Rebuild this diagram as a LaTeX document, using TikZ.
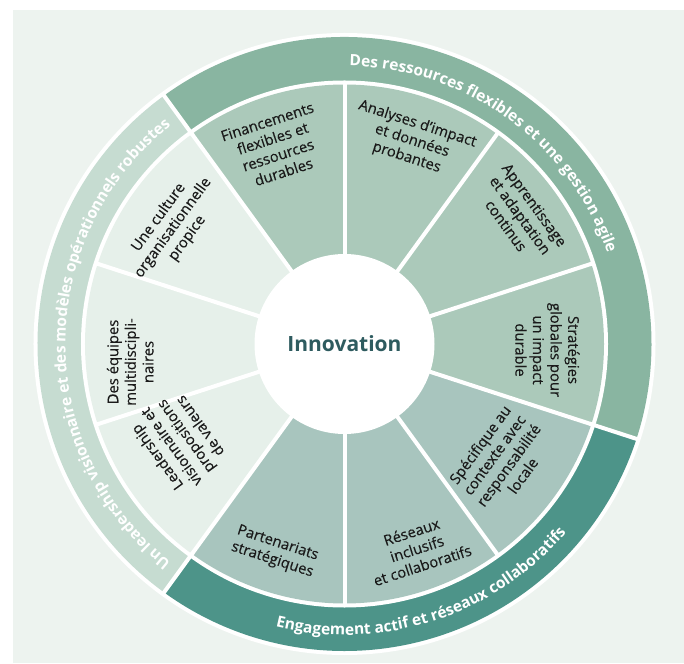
\documentclass[tikz,border=0pt]{standalone}
\usepackage{fontspec}
\setmainfont{Open Sans}
\newfontfamily\lblfamily{Open Sans}[FakeBold=0.35]
\usetikzlibrary{decorations.text}
\definecolor{bg}{HTML}{EDF3EF}
\definecolor{ringA}{HTML}{89B5A1}
\definecolor{ringB}{HTML}{4D9489}
\definecolor{ringC}{HTML}{C6DCD1}
\definecolor{wA}{HTML}{ABC9BA}
\definecolor{wB}{HTML}{A8C5BE}
\definecolor{wC}{HTML}{E6F0EA}
\definecolor{txt}{HTML}{1A1A1A}
\definecolor{inno}{HTML}{2E5B5F}
\newcommand\ringfont{\color{white}\bfseries\fontsize{15.5}{17}\selectfont}
\tikzset{
  lbl/.style={align=center, font=\lblfamily\fontsize{14.8}{17.6}\selectfont, text=txt, inner sep=0pt},
  sep/.style={white, line width=4pt},
  ringtext/.style={decorate, decoration={text along path, text align=center, text={|\ringfont|#1}}}
}
\begin{document}
\begin{tikzpicture}[x=1pt,y=1pt]
\useasboundingbox (-344.5,-319) rectangle (339.5,344);
\fill[bg] (-331.5,-319) rectangle (339.5,334);
\fill[white] (0,0) circle[radius=311pt];
% outer ring
\fill[ringA] (0,0) -- (126:307pt) arc[start angle=126,end angle=-18,radius=307pt] -- cycle;
\fill[ringB] (0,0) -- (-18:307pt) arc[start angle=-18,end angle=-126,radius=307pt] -- cycle;
\fill[ringC] (0,0) -- (234:307pt) arc[start angle=234,end angle=126,radius=307pt] -- cycle;
\fill[white] (0,0) circle[radius=263.5pt];
% wedges
\foreach \s/\c in {90/wA,54/wA,18/wA,-18/wA,-54/wB,-90/wB,-126/wB,-162/wC,162/wC,126/wC}
  \fill[\c] (0,0) -- (\s:259.5pt) arc[start angle=\s, delta angle=36, radius=259.5pt] -- cycle;
\foreach \s in {90,54,18,-18,-54,-90,-126,-162,162,126}
  \draw[sep] (\s:80pt) -- (\s:262pt);
\foreach \s in {126,-18,-126}
  \draw[sep] (\s:258pt) -- (\s:309pt);
% centre
\node[circle, fill=white, minimum size=180pt, inner sep=0pt, font=\bfseries\fontsize{21}{25}\selectfont, text=inno] (core) at (0,0) {Innovation};
% wedge labels
\node[lbl, rotate=18] (fin) at (109.3:209pt) {Financements\\flexibles et\\ressources\\durables};
\node[lbl, rotate=-18] (ana) at (71.6:214pt) {Analyses d’impact\\et données\\probantes};
\node[lbl, rotate=-54] (app) at (36.2:218pt) {Apprentissage\\et adaptation\\continus};
\node[lbl, rotate=-90] (str) at (-1.7:203pt) {Stratégies\\globales pour\\un impact\\durable};
\node[lbl, rotate=54] (spe) at (-36.5:195pt) {Spécifique au\\contexte avec\\responsabilité\\locale};
\node[lbl, rotate=18] (res) at (-70.5:217pt) {Réseaux\\inclusifs\\et collaboratifs};
\node[lbl, rotate=-18] (par) at (-108.5:219pt) {Partenariats\\stratégiques};
\node[lbl, rotate=126] (lea) at (210.5:193pt) {Leadership\\visionnaire et\\propositions\\de valeurs};
\node[lbl, rotate=90] (equ) at (184.8:215pt) {Des équipes\\multidiscipli-\\naires};
\node[lbl, rotate=54] (cul) at (145.9:207pt) {Une culture\\organisationnelle\\propice};
% ring labels
\path[ringtext={Des ressources flexibles et une gestion agile}] (126:278pt) arc[start angle=126,end angle=-18,radius=278pt];
\path[ringtext={Un leadership visionnaire et des modèles opérationnels robustes}] (234:279pt) arc[start angle=234,end angle=126,radius=279pt];
\path[ringtext={Engagement actif et réseaux collaboratifs}] (-126:291pt) arc[start angle=-126,end angle=-18,radius=291pt];
\end{tikzpicture}
\end{document}
